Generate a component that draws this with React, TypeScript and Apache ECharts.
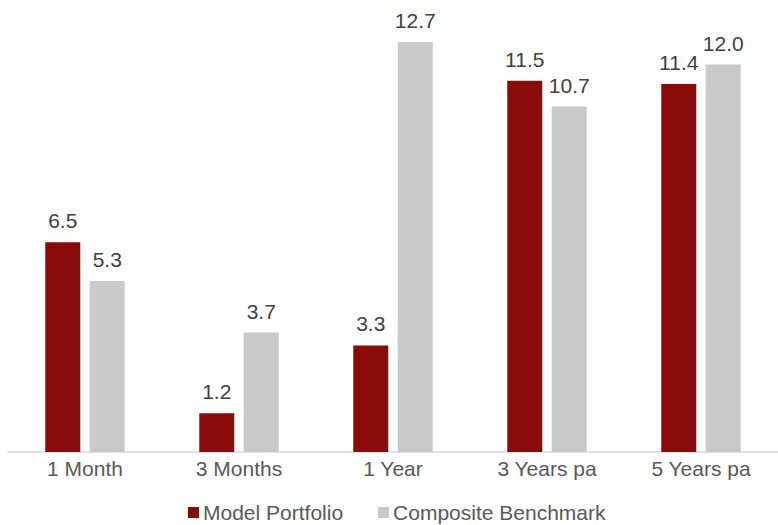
import React, { useEffect, useRef } from "react";
import * as echarts from "echarts";

const categories = ["1 Month", "3 Months", "1 Year", "3 Years pa", "5 Years pa"];
const modelPortfolio = [6.5, 1.2, 3.3, 11.5, 11.4];
const compositeBenchmark = [5.3, 3.7, 12.7, 10.7, 12.0];
const seriesNames = ["Model Portfolio", "Composite Benchmark"];

export default function App() {
  const ref = useRef<HTMLDivElement>(null);
  useEffect(() => {
    if (!ref.current) return;
    const chart = echarts.init(ref.current, undefined, { renderer: "svg" });
    const font = "'Liberation Sans', Arial, sans-serif";
    const label = {
      show: true,
      position: "top",
      distance: 11,
      color: "#404040",
      fontSize: 21,
      fontFamily: font,
      formatter: (p: any) => Number(p.value).toFixed(1),
    };
    chart.setOption({
      animation: false,
      grid: { left: 8, right: -3, top: 0, bottom: 73, containLabel: false },
      legend: {
        data: seriesNames,
        left: 188,
        top: 501,
        padding: 0,
        itemWidth: 11,
        itemHeight: 11,
        itemGap: 35,
        icon: "rect",
        textStyle: { color: "#595959", fontSize: 21, lineHeight: 23, fontFamily: font, padding: [0, 0, 0, -1] },
      },
      xAxis: {
        type: "category",
        data: categories,
        axisLine: { lineStyle: { color: "#D9D9D9", width: 1.5 } },
        axisTick: { show: false },
        axisLabel: { color: "#595959", fontSize: 21, fontFamily: font, margin: 6 },
      },
      yAxis: {
        type: "value",
        min: 0,
        max: 14,
        show: false,
        splitLine: { show: false },
      },
      series: [
        {
          name: seriesNames[0],
          type: "bar",
          data: modelPortfolio,
          barWidth: 35,
          barGap: "27%",
          itemStyle: { color: "#8B0B0B" },
          label,
        },
        {
          name: seriesNames[1],
          type: "bar",
          data: compositeBenchmark,
          barWidth: 35,
          barGap: "27%",
          itemStyle: { color: "#C9C9C9" },
          label,
        },
      ],
    });
    return () => chart.dispose();
  }, []);
  return (
    <div
      ref={ref}
      style={{ position: "absolute", left: 0, top: 0, width: 778, height: 525, background: "#fff" }}
    />
  );
}
